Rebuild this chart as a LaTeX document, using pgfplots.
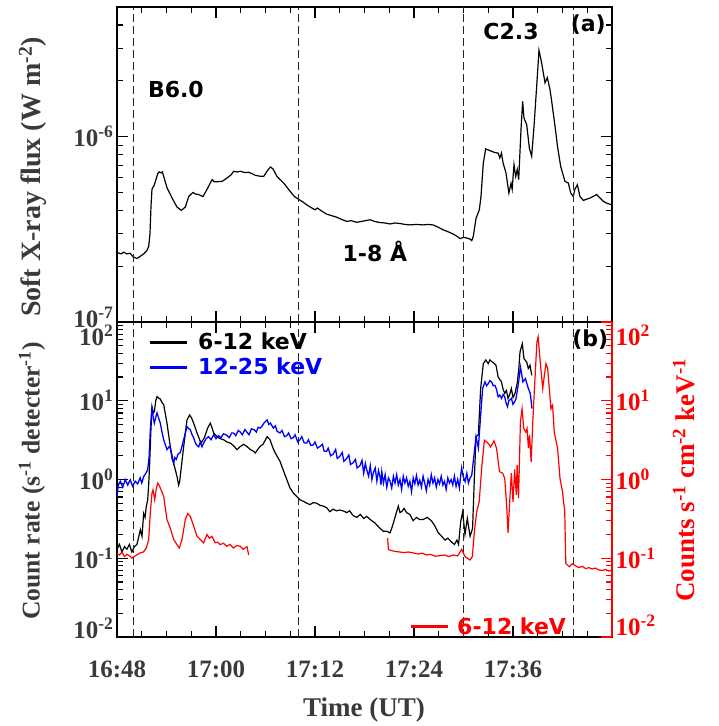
\documentclass[border=0pt]{standalone}
\usepackage{pgfplots}
\pgfplotsset{compat=1.18}
\usepackage{fontspec}
\setmainfont{Liberation Serif}
\newfontfamily\annot{DejaVu Sans}
\definecolor{lblgray}{HTML}{3A3A3A}
\newcommand{\lfont}{\annot\bfseries\fontsize{22}{22}\selectfont}

\pgfplotsset{
  myaxis/.style={
    width=495pt, height=315pt, scale only axis,
    xmin=0, xmax=60,
    xtick={0,12,24,36,48},
    minor xtick={3,6,9,15,18,21,27,30,33,39,42,45,51,54,57},
    tick align=inside,
    major tick length=11pt, minor tick length=6pt,
    every tick/.style={black, line width=1.1pt},
    axis line style={line width=1.4pt},
    tick label style={font=\fontsize{25}{25}\selectfont\bfseries, text=lblgray},
  },
  vline/.style={black!85, line width=1.2pt, dash pattern=on 8pt off 4pt, forget plot},
}

\begin{document}
\begin{tikzpicture}
\path[use as bounding box] (-117pt,-89pt) rectangle (601pt,637pt);

% ---------------- panel (a)
\begin{axis}[myaxis, ymode=log, at={(0pt,315pt)}, anchor=south west,
  ymin=1e-7, ymax=5e-6,
  ytick={1e-7,1e-6},
  yticklabels={\raisebox{5pt}[\height][\depth]{10\textsuperscript{-7}}, 10\textsuperscript{-6}},
  minor ytick={2e-7,3e-7,4e-7,5e-7,6e-7,7e-7,8e-7,9e-7,2e-6,3e-6,4e-6},
  xticklabels={},
  ylabel={Soft X-ray flux (W m\textsuperscript{-2})},
  ylabel style={at={(axis description cs:-0.17,0.46)}, anchor=center, font=\fontsize{28}{28}\selectfont\bfseries, text=lblgray},
]
\addplot[black, line width=1.2pt] table {
0 2.37e-7
0.5 2.33e-7
0.8 2.38e-7
1.2 2.33e-7
1.6 2.35e-7
1.94 2.25e-7
2.42 2.2e-7
2.8 2.26e-7
3.23 2.33e-7
3.6 2.42e-7
3.84 2.55e-7
4.0 3.0e-7
4.12 4.2e-7
4.24 5.2e-7
4.53 5.5e-7
4.93 6.3e-7
5.1 6.45e-7
5.33 6.37e-7
5.5 6.45e-7
5.66 6.1e-7
6.06 5.3e-7
6.67 4.67e-7
7.27 4.17e-7
7.8 4.0e-7
8.28 4.17e-7
8.69 4.75e-7
9.21 5.0e-7
9.5 4.9e-7
9.9 4.87e-7
10.42 4.75e-7
10.99 5.27e-7
11.52 5.86e-7
11.8 5.7e-7
12.3 5.72e-7
12.73 5.73e-7
13.33 5.98e-7
13.8 6.2e-7
14.14 6.5e-7
14.6 6.45e-7
14.95 6.5e-7
15.5 6.4e-7
15.96 6.42e-7
16.4 6.3e-7
16.77 6.18e-7
17.3 6.12e-7
17.78 6.1e-7
18.18 6.5e-7
18.59 6.86e-7
18.9 6.7e-7
19.39 6.1e-7
20.2 5.62e-7
21.0 5.06e-7
21.5 4.75e-7
21.98 4.6e-7
22.5 4.45e-7
22.99 4.29e-7
23.5 4.15e-7
24.0 4.03e-7
24.3 4.12e-7
24.69 4.0e-7
25.4 3.82e-7
26.0 3.75e-7
26.6 3.68e-7
27.2 3.58e-7
27.84 3.49e-7
28.4 3.52e-7
29.05 3.45e-7
29.8 3.5e-7
30.67 3.56e-7
31.3 3.48e-7
31.88 3.44e-7
32.5 3.42e-7
33.1 3.38e-7
33.7 3.42e-7
34.3 3.4e-7
34.9 3.36e-7
35.5 3.34e-7
36.3 3.36e-7
37.1 3.34e-7
37.7 3.36e-7
38.3 3.34e-7
38.9 3.25e-7
39.55 3.14e-7
40.2 3.06e-7
40.76 2.98e-7
41.2 2.9e-7
41.58 2.82e-7
42.0 2.86e-7
42.39 2.84e-7
42.8 2.8e-7
43.0 2.75e-7
43.19 2.9e-7
43.52 3.63e-7
43.92 4.03e-7
44.12 4.75e-7
44.4 7.2e-7
44.69 8.58e-7
45.2 8.4e-7
45.82 8.2e-7
46.2 8.15e-7
46.4 7.67e-7
46.6 8.15e-7
46.8 7.2e-7
47.15 6.37e-7
47.5 4.96e-7
47.76 5.6e-7
47.9 5.2e-7
48.12 7.06e-7
48.33 6.1e-7
48.52 6.65e-7
48.69 5.86e-7
48.97 1.09e-6
49.17 1.55e-6
49.33 1.26e-6
49.66 1.16e-6
49.98 8.69e-7
50.26 7.83e-7
50.55 1.14e-6
50.87 1.87e-6
51.15 2.92e-6
51.47 2.5e-6
51.88 1.95e-6
52.16 2.08e-6
52.48 1.8e-6
52.69 1.55e-6
53.09 1.14e-6
53.42 8.69e-7
53.78 6.91e-7
54.3 5.73e-7
54.7 5.62e-7
55.0 4.96e-7
55.31 4.75e-7
55.5 5.2e-7
55.8 5.5e-7
56.12 4.75e-7
56.52 4.53e-7
57.33 4.66e-7
58.14 4.87e-7
58.95 4.47e-7
59.5 4.35e-7
60 4.29e-7
};
\addplot[vline] coordinates {(2,1e-7) (2,5e-6)};
\addplot[vline] coordinates {(22,1e-7) (22,5e-6)};
\addplot[vline] coordinates {(42,1e-7) (42,5e-6)};
\addplot[vline] coordinates {(55.3,1e-7) (55.3,5e-6)};
\node[font=\lfont] at (axis description cs:0.119,0.737) {B6.0};
\node[font=\lfont] at (axis description cs:0.796,0.921) {C2.3};
\node[font=\lfont] at (axis description cs:0.952,0.943) {(a)};
\node[font=\lfont] at (axis description cs:0.521,0.225) {1-8 Å};
\end{axis}

% ---------------- panel (b), left axis
\begin{axis}[myaxis, ymode=log, at={(0pt,0pt)}, anchor=south west,
  ymin=1e-2, ymax=1e2,
  ytick={1e-2,1e-1,1,1e1,1e2},
  yticklabels={\raisebox{9pt}[\height][\depth]{10\textsuperscript{-2}}, 10\textsuperscript{-1}, 10\textsuperscript{0}, 10\textsuperscript{1}, \raisebox{-13pt}[\height][\depth]{10\textsuperscript{2}}},
  minor ytick={0.02,0.03,0.04,0.05,0.06,0.07,0.08,0.09,0.2,0.3,0.4,0.5,0.6,0.7,0.8,0.9,2,3,4,5,6,7,8,9,20,30,40,50,60,70,80,90},
  ytick pos=left,
  xticklabels={16:48,17:00,17:12,17:24,17:36},
  xticklabel style={yshift=-20pt},
  xlabel={Time (UT)},
  xlabel style={at={(axis description cs:0.499,-0.232)}, anchor=center, font=\fontsize{27}{27}\selectfont\bfseries, text=lblgray},
  ylabel={Count rate (s\textsuperscript{-1} detecter\textsuperscript{-1})},
  ylabel style={at={(axis description cs:-0.172,0.495)}, anchor=center, font=\fontsize{25.6}{25.6}\selectfont\bfseries, text=lblgray},
  legend style={at={(axis description cs:0.0626,0.972)}, anchor=north west, draw=none, fill=none,
    font=\lfont, inner sep=0pt, row sep=3pt, column sep=8pt},
  legend image code/.code={\draw[#1, line width=3pt] (0pt,0pt) -- (37pt,0pt);},
  legend cell align=left,
]
\addplot[black, line width=1.2pt] table {
0 0.13
0.3 0.15
0.6 0.12
0.9 0.14
1.2 0.13
1.5 0.15
1.8 0.12
2.1 0.14
2.42 0.15
2.7 0.2
2.83 0.23
3.03 0.19
3.23 0.37
3.4 0.33
3.56 0.46
3.72 0.55
3.85 0.9
3.96 1.6
4.1 4.0
4.24 8.4
4.4 7.0
4.53 7.3
4.7 10.0
4.85 11.3
5.05 10.8
5.25 10.5
5.45 9.5
5.66 8.9
6.06 5.2
6.46 2.6
6.87 1.6
7.27 1.1
7.47 0.85
7.6 0.95
7.76 1.33
8.08 2.6
8.48 5.7
8.81 6.6
9.05 6.0
9.29 5.2
9.7 3.9
10.18 2.9
10.59 3.4
10.99 4.5
11.31 5.2
11.5 4.6
11.72 3.9
12.12 3.5
12.5 3.3
12.93 3.2
13.3 3.0
13.74 2.9
14.1 2.7
14.55 2.4
14.9 2.6
15.35 2.8
15.8 2.6
16.16 2.4
16.5 2.3
16.77 2.17
17.05 2.4
17.37 2.65
17.7 2.8
18.0 3.2
18.2 3.5
18.55 3.2
18.85 2.6
19.15 2.2
19.76 1.7
20.36 1.15
20.97 0.78
21.4 0.67
21.78 0.61
22.2 0.55
22.58 0.53
23.0 0.5
23.4 0.48
23.8 0.51
24.2 0.5
24.6 0.47
25.0 0.46
25.4 0.44
25.8 0.39
26.2 0.42
26.6 0.4
27.0 0.41
27.4 0.4
27.84 0.38
28.2 0.4
28.6 0.35
29.05 0.33
29.5 0.36
29.9 0.32
30.27 0.34
30.7 0.31
31.27 0.28
31.7 0.25
32.28 0.22
32.7 0.22
33.1 0.21
33.3 0.24
33.5 0.28
33.8 0.36
34.1 0.46
34.3 0.38
34.5 0.39
34.8 0.43
35.1 0.38
35.5 0.36
35.9 0.3
36.3 0.33
36.7 0.31
37.1 0.31
37.6 0.33
38.1 0.3
38.5 0.26
38.95 0.21
39.35 0.19
39.76 0.17
40.1 0.18
40.57 0.16
40.9 0.15
41.2 0.17
41.4 0.15
41.66 0.29
41.9 0.39
42.18 0.2
42.46 0.32
42.8 0.19
43.1 0.24
43.3 0.94
43.52 3.5
43.8 3.7
44.08 14.3
44.4 29.6
44.7 33
45.0 29.6
45.2 33
45.4 31.6
45.7 30
45.94 28.2
46.2 20
46.6 17.4
46.8 14
47.0 12.4
47.2 13.5
47.4 10.7
47.6 12
47.8 14.3
48.0 11
48.24 12.4
48.5 16.5
48.7 25
48.85 41.7
49.13 53
49.33 34.3
49.66 31
49.86 25.7
50.06 28.2
50.27 21
};
\addlegendentry{\lfont 6-12 keV}
\addplot[blue, line width=1.3pt] table {
0 0.6
0.15 0.85
0.4 0.95
0.7 0.8
1.0 1.0
1.3 0.85
1.6 0.99
1.9 0.82
2.2 0.95
2.5 0.88
2.8 1.05
3.0 0.9
3.23 1.09
3.5 1.2
3.72 1.33
3.9 2.0
4.04 4.3
4.24 8.4
4.4 6.0
4.53 5.2
4.7 6.2
4.85 7.0
5.05 6.0
5.25 5.2
5.45 4.0
5.66 3.2
6.06 2.4
6.3 2.6
6.46 2.5
6.7 1.8
6.87 1.6
7.0 1.9
7.19 1.8
7.4 2.1
7.68 2.2
8.08 3.2
8.48 4.7
8.7 4.4
8.89 4.3
9.1 3.7
9.29 3.4
9.5 2.9
9.7 2.7
9.9 2.6
10.1 3.0
10.3 2.6
10.5 2.9
10.8 3.3
11.1 3.5
11.4 3.2
11.72 3.7
12.0 3.3
12.3 3.6
12.6 3.4
12.9 3.8
13.3 3.66
13.6 3.4
13.9 3.9
14.14 3.88
14.4 3.6
14.7 4.2
14.95 4.0
15.2 3.7
15.5 4.3
15.75 4.0
16.0 3.7
16.3 4.4
16.6 4.3
16.9 4.0
17.1 4.6
17.37 4.5
17.6 4.8
17.8 5.2
18.0 5.45
18.2 5.7
18.4 5.0
18.6 5.2
18.95 4.5
19.2 4.8
19.4 4.1
19.76 3.9
20.0 4.2
20.3 3.5
20.57 3.6
20.8 3.9
21.1 3.3
21.37 3.4
21.6 3.7
21.9 3.0
22.18 3.2
22.4 3.5
22.7 2.9
22.99 2.9
23.2 3.2
23.5 2.7
23.8 2.75
24.0 3.0
24.3 2.5
24.6 2.63
24.9 2.8
25.1 2.3
25.4 2.27
25.6 2.5
25.9 2.0
26.2 2.1
26.5 2.4
26.7 1.85
27.0 1.96
27.3 2.2
27.5 1.7
27.84 1.85
28.1 2.05
28.3 1.55
28.6 1.62
28.9 1.8
29.1 1.4
29.45 1.5
29.7 1.75
29.9 1.2
30.1 1.6
30.27 1.33
30.5 1.1
30.7 1.5
30.9 1.0
31.07 1.22
31.3 1.4
31.5 0.95
31.7 1.3
31.88 1.09
32.0 0.85
32.1 1.25
32.3 0.9
32.5 1.15
32.7 0.8
32.9 1.05
33.1 0.95
33.3 0.78
33.5 1.1
33.7 0.9
33.9 1.15
34.1 0.85
34.3 1.0
34.5 0.75
34.7 1.1
34.9 0.9
35.1 1.05
35.3 0.82
35.5 0.95
35.7 0.7
35.9 1.05
36.1 0.88
36.3 1.12
36.5 0.85
36.7 0.98
36.9 0.8
37.1 1.1
37.3 0.9
37.5 0.72
37.7 1.0
37.9 0.85
38.1 1.15
38.3 0.9
38.5 1.05
38.7 0.8
38.9 1.0
39.1 0.88
39.3 1.1
39.5 0.85
39.7 0.95
39.9 0.75
40.1 1.05
40.3 0.9
40.5 1.0
40.7 0.85
40.9 1.1
41.1 0.82
41.3 1.0
41.5 0.78
41.65 1.1
41.78 1.4
41.95 1.1
42.2 0.94
42.4 1.2
42.6 0.9
42.8 1.05
43.0 1.13
43.27 2.04
43.52 3.5
43.8 2.5
44.08 6.6
44.32 14.3
44.6 17.4
44.8 15.5
45.0 16.5
45.2 18
45.4 17.4
45.6 15.5
45.8 15.7
46.0 14
46.2 11.2
46.4 11.8
46.6 10.7
46.8 12
47.0 11.2
47.15 9.5
47.33 8.4
47.5 10
47.8 10.7
48.0 9
48.2 9.7
48.35 10.5
48.5 13.0
48.7 18
48.9 26.9
49.05 22
49.2 17.4
49.5 19.1
49.8 15
50.1 12.3
50.3 7.95
};
\addlegendentry{\lfont\textcolor{blue}{12-25 keV}}
\addplot[vline] coordinates {(2,1e-2) (2,1e2)};
\addplot[vline] coordinates {(22,1e-2) (22,1e2)};
\addplot[vline] coordinates {(42,1e-2) (42,1e2)};
\addplot[vline] coordinates {(55.3,1e-2) (55.3,1e2)};
\node[font=\lfont] at (axis description cs:0.956,0.943) {(b)};
\end{axis}

% ---------------- panel (b), right axis (red)
\begin{axis}[at={(0pt,0pt)}, anchor=south west,
  width=495pt, height=315pt, scale only axis,
  xmin=0, xmax=60, ymode=log, ymin=1e-2, ymax=1e2,
  axis x line=none, axis y line*=right,
  tick align=inside,
  major tick length=11pt, minor tick length=6pt,
  every tick/.style={red, line width=1.1pt},
  y axis line style={-, red, line width=1.4pt},
  ytick={1e-2,1e-1,1,1e1,1e2},
  yticklabels={\raisebox{12pt}[\height][\depth]{10\textsuperscript{-2}}, 10\textsuperscript{-1}, 10\textsuperscript{0}, 10\textsuperscript{1}, \raisebox{-13pt}[\height][\depth]{10\textsuperscript{2}}},
  minor ytick={0.02,0.03,0.04,0.05,0.06,0.07,0.08,0.09,0.2,0.3,0.4,0.5,0.6,0.7,0.8,0.9,2,3,4,5,6,7,8,9,20,30,40,50,60,70,80,90},
  tick label style={font=\fontsize{25}{25}\selectfont\bfseries, text=red},
  ylabel={Counts s\textsuperscript{-1} cm\textsuperscript{-2} keV\textsuperscript{-1}},
  ylabel style={at={(axis description cs:1.145,0.498)}, anchor=center, rotate=0, font=\fontsize{27}{27}\selectfont\bfseries, text=red},
  legend style={at={(axis description cs:0.59,0.032)}, anchor=west, draw=none, fill=none,
    font=\lfont, inner sep=0pt, column sep=6pt},
  legend image code/.code={\draw[#1, line width=3pt] (0pt,0pt) -- (37pt,0pt);},
]
\addplot[red, line width=1.2pt] table {
0 0.115
0.3 0.11
0.6 0.12
0.9 0.105
1.2 0.112
1.5 0.108
1.8 0.1
2.0 0.104
2.4 0.11
2.8 0.117
3.2 0.12
3.56 0.135
3.84 0.173
4.04 0.38
4.24 0.67
4.36 0.74
4.57 0.555
4.75 0.75
4.93 0.9
5.1 0.85
5.25 0.78
5.66 0.61
6.06 0.31
6.46 0.24
6.87 0.173
7.27 0.149
7.56 0.135
7.88 0.173
8.28 0.31
8.57 0.37
8.89 0.34
9.29 0.255
9.7 0.19
10.1 0.173
10.5 0.157
10.9 0.2
11.2 0.18
11.5 0.19
11.9 0.157
12.2 0.16
12.5 0.149
12.9 0.155
13.3 0.142
13.7 0.15
14.1 0.135
14.5 0.145
14.95 0.142
15.3 0.13
15.76 0.14
15.96 0.11
};
\addlegendentry{\lfont\textcolor{red}{6-12 keV}}
\addplot[red, line width=1.2pt, forget plot] table {
32.8 0.181
32.9 0.129
33.3 0.125
33.7 0.122
34.3 0.12
34.8 0.118
35.3 0.12
35.9 0.117
36.5 0.113
37.0 0.116
37.5 0.11
38.0 0.112
38.6 0.106
39.15 0.108
39.7 0.11
40.2 0.105
40.77 0.11
41.3 0.107
41.78 0.13
42.0 0.115
42.18 0.105
42.79 0.095
43.07 0.105
43.32 0.218
43.6 0.39
43.9 0.52
44.2 1.38
44.53 3.16
45.0 2.87
45.3 2.6
45.7 3.1
46.0 2.5
46.36 1.26
46.75 1.2
47.0 1.03
47.23 0.47
47.4 0.21
47.6 0.52
47.8 1.2
48.0 0.52
48.2 1.34
48.4 0.64
48.5 1.52
48.67 0.58
48.9 5.4
49.1 7.9
49.3 4.45
49.55 4.0
49.7 4.45
49.87 2.5
50.0 3.66
50.2 1.68
50.4 5.4
50.6 14.3
50.9 55.8
51.05 64.5
51.3 31
51.6 14.3
51.8 21
52.0 29.6
52.2 25.7
52.4 14.3
52.6 7.9
52.8 8.8
53.0 4.0
53.4 2.5
53.7 1.03
54.0 0.7
54.27 0.39
54.4 0.086
54.8 0.078
55.2 0.085
55.6 0.08
56.0 0.076
56.4 0.079
56.8 0.074
57.2 0.076
57.6 0.073
58.0 0.075
58.4 0.071
58.8 0.07
59.2 0.072
59.6 0.069
60 0.07
};
\end{axis}
\end{tikzpicture}
\end{document}
